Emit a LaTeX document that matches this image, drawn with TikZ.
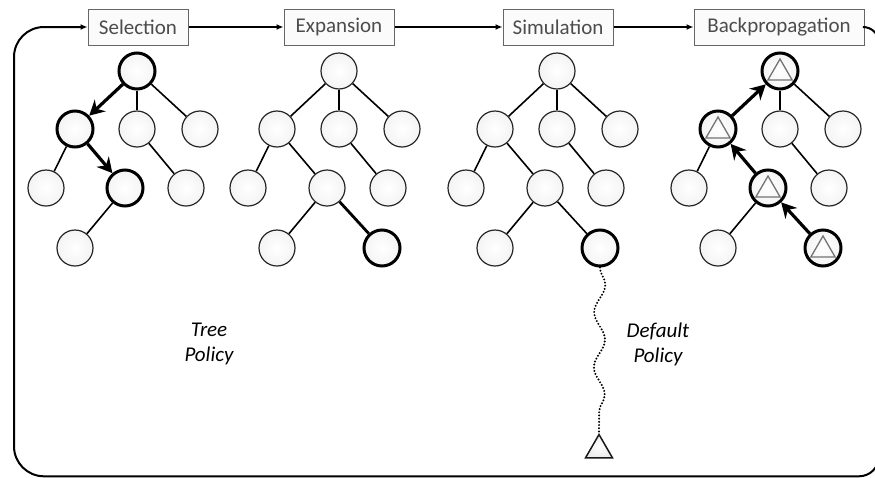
\documentclass[tikz,border=0pt]{standalone}
\usepackage{fontspec}
\setmainfont{Carlito}
\usetikzlibrary{arrows.meta,shapes.geometric,decorations.pathmorphing}
\begin{document}
\begin{tikzpicture}[x=1pt,y=-1pt,
 nd/.style={circle, minimum size=36pt, inner sep=0pt, draw=black!85, line width=1.2pt, inner color=white, outer color=gray!9},
 hot/.style={nd, draw=black, line width=3pt},
 phase/.style={draw=black!60, line width=1pt, fill=gray!3, minimum height=36pt, inner sep=0pt, text=black!70, font=\fontsize{21}{24}\selectfont},
 edge/.style={line width=1.6pt},
 thick edge/.style={line width=2.8pt},
 back/.style={line width=3.2pt, -{Stealth[length=15pt,width=16pt,inset=5pt]}},
 flow/.style={line width=2pt, -{Latex[length=7pt,width=6pt]}},
 lbl/.style={align=center, font=\itshape\fontsize{21}{25}\selectfont},
 mark tri/.style={regular polygon, regular polygon sides=3, minimum size=28pt, inner sep=0pt, draw=black!55, line width=1.3pt},
 leaf tri/.style={regular polygon, regular polygon sides=3, minimum size=31pt, inner sep=0pt, draw=black!90, line width=1.5pt, inner color=white, outer color=gray!15}
]
\useasboundingbox (0,0) rectangle (875,477);
\clip (0,0) rectangle (875,477);

% phase boxes
\node[phase, minimum width=100pt] (sel) at (138,27) {Selection};
\node[phase, minimum width=110pt] (exp) at (339,27) {Expansion};
\node[phase, minimum width=110pt] (sim) at (558,27) {Simulation};
\node[phase, minimum width=170pt] (bp) at (779,27) {Backpropagation};
\draw[flow] (sel) -- (exp);
\draw[flow] (exp) -- (sim);
\draw[flow] (sim) -- (bp);
\draw[flow] (bp.east) [rounded corners=16pt] -- (879,27) [rounded corners=20pt] -- (879,476.3) [rounded corners=30pt] -- (14,476.3) -- (14,27) [sharp corners] -- (sel.west);

% Selection tree
\node[hot] (a0) at (137,71) {};
\node[hot] (a1) at (75,129) {};
\node[nd] (a2) at (137,129) {};
\node[nd] (a3) at (200,129) {};
\node[nd] (a4) at (46,188) {};
\node[hot] (a5) at (125,188) {};
\node[nd] (a6) at (186,188) {};
\node[nd] (a7) at (75,248) {};
\draw[edge] (a0) -- (a2);
\draw[edge] (a0) -- (a3);
\draw[edge] (a1) -- (a4);
\draw[edge] (a2) -- (a6);
\draw[edge] (a5) -- (a7);
\draw[back] (a0) -- (a1);
\draw[back] (a1) -- (a5);

% Expansion tree
\node[nd] (b0) at (339,71) {};
\node[nd] (b1) at (277,129) {};
\node[nd] (b2) at (339,129) {};
\node[nd] (b3) at (402,129) {};
\node[nd] (b4) at (248,188) {};
\node[nd] (b5) at (327,188) {};
\node[nd] (b6) at (388,188) {};
\node[nd] (b7) at (277,248) {};
\node[hot] (b8) at (382,248) {};
\draw[edge] (b0) -- (b1);
\draw[edge] (b0) -- (b2);
\draw[edge] (b0) -- (b3);
\draw[edge] (b1) -- (b4);
\draw[edge] (b1) -- (b5);
\draw[edge] (b2) -- (b6);
\draw[edge] (b5) -- (b7);
\draw[thick edge] (b5) -- (b8);

% Simulation tree
\node[nd] (c0) at (557,71) {};
\node[nd] (c1) at (495,129) {};
\node[nd] (c2) at (557,129) {};
\node[nd] (c3) at (620,129) {};
\node[nd] (c4) at (466,188) {};
\node[nd] (c5) at (545,188) {};
\node[nd] (c6) at (606,188) {};
\node[nd] (c7) at (495,248) {};
\node[hot] (c8) at (600,248) {};
\draw[edge] (c0) -- (c1);
\draw[edge] (c0) -- (c2);
\draw[edge] (c0) -- (c3);
\draw[edge] (c1) -- (c4);
\draw[edge] (c1) -- (c5);
\draw[edge] (c2) -- (c6);
\draw[edge] (c5) -- (c7);
\draw[edge] (c5) -- (c8);
\node[leaf tri] (leaf) at (599,450) {};
\draw[line width=2.2pt, line cap=round, dash pattern=on 0pt off 3.2pt, decorate, decoration={snake, amplitude=5.5pt, segment length=55pt}] (c8) -- (leaf.north);

% Backpropagation tree
\node[hot] (d0) at (780,71) {};
\node[hot] (d1) at (718,129) {};
\node[nd] (d2) at (780,129) {};
\node[nd] (d3) at (843,129) {};
\node[nd] (d4) at (689,188) {};
\node[hot] (d5) at (768,188) {};
\node[nd] (d6) at (829,188) {};
\node[nd] (d7) at (718,248) {};
\node[hot] (d8) at (823,248) {};
\draw[edge] (d0) -- (d2);
\draw[edge] (d0) -- (d3);
\draw[edge] (d1) -- (d4);
\draw[edge] (d2) -- (d6);
\draw[edge] (d5) -- (d7);
\draw[back] (d8) -- (d5);
\draw[back] (d5) -- (d1);
\draw[back] (d1) -- (d0);
\node[mark tri] (t0) at ([yshift=-2pt]d0.center) {};
\node[mark tri] (t1) at ([yshift=-2pt]d1.center) {};
\node[mark tri] (t5) at ([yshift=-2pt]d5.center) {};
\node[mark tri] (t8) at ([yshift=-2pt]d8.center) {};

% labels
\node[lbl] (tp) at (209,344) {Tree\\Policy};
\node[lbl] (dp) at (658,344) {Default\\Policy};
\end{tikzpicture}
\end{document}
